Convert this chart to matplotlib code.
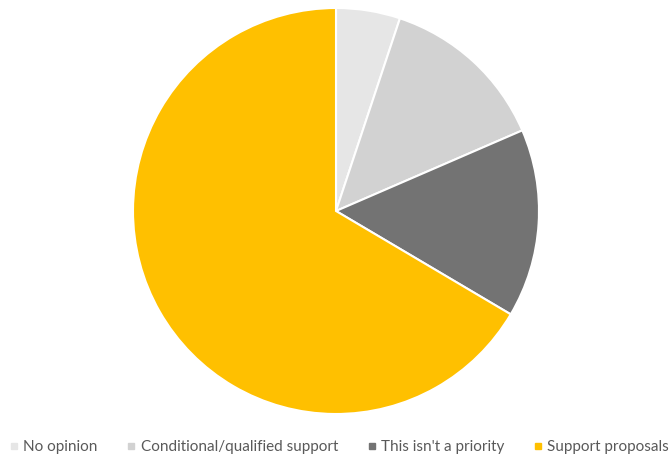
import matplotlib
matplotlib.use("Agg")
import matplotlib.pyplot as plt
from matplotlib.lines import Line2D

categories = ["No opinion", "Conditional/qualified support", "This isn't a priority", "Support proposals"]
values = [5.1, 13.4, 15.0, 66.5]
colors = ["#e6e6e6", "#d2d2d2", "#737373", "#ffc000"]

plt.rcParams['font.family'] = ['Lato', 'DejaVu Sans']

W, H = 669, 458
fig = plt.figure(figsize=(W/100, H/100), dpi=100)
cx, cy, r = 336, 211, 203
ax = fig.add_axes([(cx - r)/W, (H - cy - r)/H, 2*r/W, 2*r/H])
ax.pie(values, colors=colors, startangle=90, counterclock=False, radius=1,
       wedgeprops=dict(edgecolor="white", linewidth=1.5))
ax.set_xlim(-1.0, 1.0)
ax.set_ylim(-1.0, 1.0)
ax.set_aspect("equal")
ax.axis("off")

handles = [Line2D([], [], marker="s", linestyle="none", markersize=4.5,
                  markerfacecolor=c, markeredgecolor=c) for c in colors]
fig.legend(handles, categories, loc="center", bbox_to_anchor=(339.5/W, 1 - 447/H),
           ncol=4, frameon=False, fontsize=11, handlelength=0.5, handletextpad=0.35,
           columnspacing=1.95, borderaxespad=0, borderpad=0, labelcolor="#595959")

fig.savefig("out.png", dpi=100)
